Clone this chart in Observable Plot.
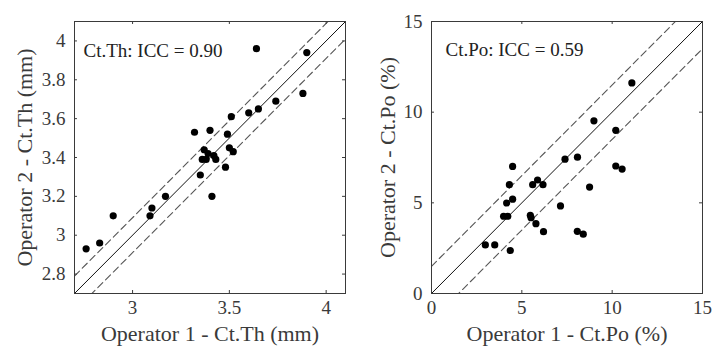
<!DOCTYPE html>
<html><head><meta charset="utf-8">
<script src="https://cdn.jsdelivr.net/npm/d3@7"></script>
<script src="https://cdn.jsdelivr.net/npm/@observablehq/plot@0.6"></script>
<style>
body{margin:0;background:#fff;}
#wrap{display:flex;width:713px;height:347px;overflow:hidden;}
</style></head><body><div id="wrap"></div>
<script>
// Left panel: cortical thickness (mm)
const thOp1 = [2.76,2.83,2.90,3.09,3.10,3.17,3.35,3.41,3.32,3.40,3.37,3.36,3.38,3.39,3.42,3.43,3.48,3.49,3.50,3.52,3.51,3.60,3.65,3.74,3.88,3.90,3.64];
const thOp2 = [2.93,2.96,3.10,3.10,3.14,3.20,3.31,3.20,3.53,3.54,3.44,3.39,3.39,3.42,3.41,3.39,3.35,3.52,3.45,3.43,3.61,3.63,3.65,3.69,3.73,3.94,3.96];
// Right panel: cortical porosity (%)
const poOp1 = [2.98,3.50,4.36,3.99,4.22,4.16,4.49,4.31,4.49,5.47,5.51,5.78,6.20,5.60,5.87,6.17,7.14,7.39,8.08,8.75,8.07,8.40,8.99,10.20,10.20,10.55,11.09];
const poOp2 = [2.68,2.68,2.37,4.26,4.26,4.99,5.20,6.00,7.01,4.31,4.18,3.85,3.41,6.00,6.26,6.00,4.83,7.41,7.52,5.87,3.43,3.27,9.52,9.00,7.03,6.86,11.61];

const thDomain = [2.7, 4.1];
const thXTicks = [3, 3.5, 4];
const thYTicks = [2.8, 3, 3.2, 3.4, 3.6, 3.8, 4];
const thLimit = 0.09;
const poDomain = [0, 15];
const poTicks = [0, 5, 10, 15];
const poLimit = 1.5;

const thText = {x: "Operator 1 - Ct.Th (mm)", y: "Operator 2 - Ct.Th (mm)", note: "Ct.Th: ICC = 0.90"};
const poText = {x: "Operator 1 - Ct.Po (%)", y: "Operator 2 - Ct.Po (%)", note: "Ct.Po: ICC = 0.59"};

const FONT = "'Liberation Serif', 'Times New Roman', serif";
const INK = "#3a3a3a";

function panel(o) {
  const pts = o.xs.map((x, i) => ({x, y: o.ys[i]}));
  const d = o.domain;
  const lineData = off => d.map(v => ({x: v, y: v + off}));
  const tk = (d[1] - d[0]) * 0.011;
  return Plot.plot({
    width: o.width, height: 347,
    marginLeft: o.ml, marginRight: o.mr, marginTop: 21, marginBottom: 54,
    style: {fontFamily: FONT, fontSize: "19px", color: INK, background: "#fff"},
    x: {domain: d, ticks: o.xticks, tickSize: 0, tickPadding: 7, tickFormat: v => String(v), label: null},
    y: {domain: d, ticks: o.yticks, tickSize: 0, tickPadding: 9, tickFormat: v => String(v), label: null},
    marks: [
      Plot.line(lineData(0), {x: "x", y: "y", stroke: "#111", strokeWidth: 1, clip: true}),
      Plot.line(lineData(o.limit), {x: "x", y: "y", stroke: "#555", strokeWidth: 1.1, strokeDasharray: "7,4", clip: true}),
      Plot.line(lineData(-o.limit), {x: "x", y: "y", stroke: "#555", strokeWidth: 1.1, strokeDasharray: "7,4", clip: true}),
      Plot.ruleX(o.xticks, {x: v => v, y1: d[0], y2: d[0] + tk, stroke: INK}),
      Plot.ruleX(o.xticks, {x: v => v, y1: d[1] - tk, y2: d[1], stroke: INK}),
      Plot.ruleY(o.yticks, {y: v => v, x1: d[0], x2: d[0] + tk, stroke: INK}),
      Plot.ruleY(o.yticks, {y: v => v, x1: d[1] - tk, x2: d[1], stroke: INK}),
      Plot.dot(pts, {x: "x", y: "y", r: 3.6, fill: "#000", stroke: "none"}),
      Plot.frame({stroke: INK, strokeWidth: 1}),
      Plot.text([o.text.note], {text: v => v, frameAnchor: "top-left", dx: o.noteDx, dy: o.noteDy, textAnchor: "start", lineAnchor: "middle", fontSize: 19, fill: "#222"}),
      Plot.text([o.text.x], {text: v => v, frameAnchor: "bottom", dy: 40, textAnchor: "middle", lineAnchor: "middle", fontSize: 22, fill: INK}),
      Plot.text([o.text.y], {text: v => v, frameAnchor: "left", dx: -o.yLabelDx, rotate: -90, textAnchor: "middle", lineAnchor: "middle", fontSize: 22, fill: INK})
    ]
  });
}

const wrap = document.getElementById("wrap");
wrap.append(panel({xs: thOp1, ys: thOp2, domain: thDomain, xticks: thXTicks, yticks: thYTicks, limit: thLimit,
  text: thText, width: 360, ml: 74, mr: 15, yLabelDx: 50, noteDx: 9, noteDy: 29}));
wrap.append(panel({xs: poOp1, ys: poOp2, domain: poDomain, xticks: poTicks, yticks: poTicks, limit: poLimit,
  text: poText, width: 353, ml: 71, mr: 11, yLabelDx: 44, noteDx: 14, noteDy: 28}));
</script></body></html>
